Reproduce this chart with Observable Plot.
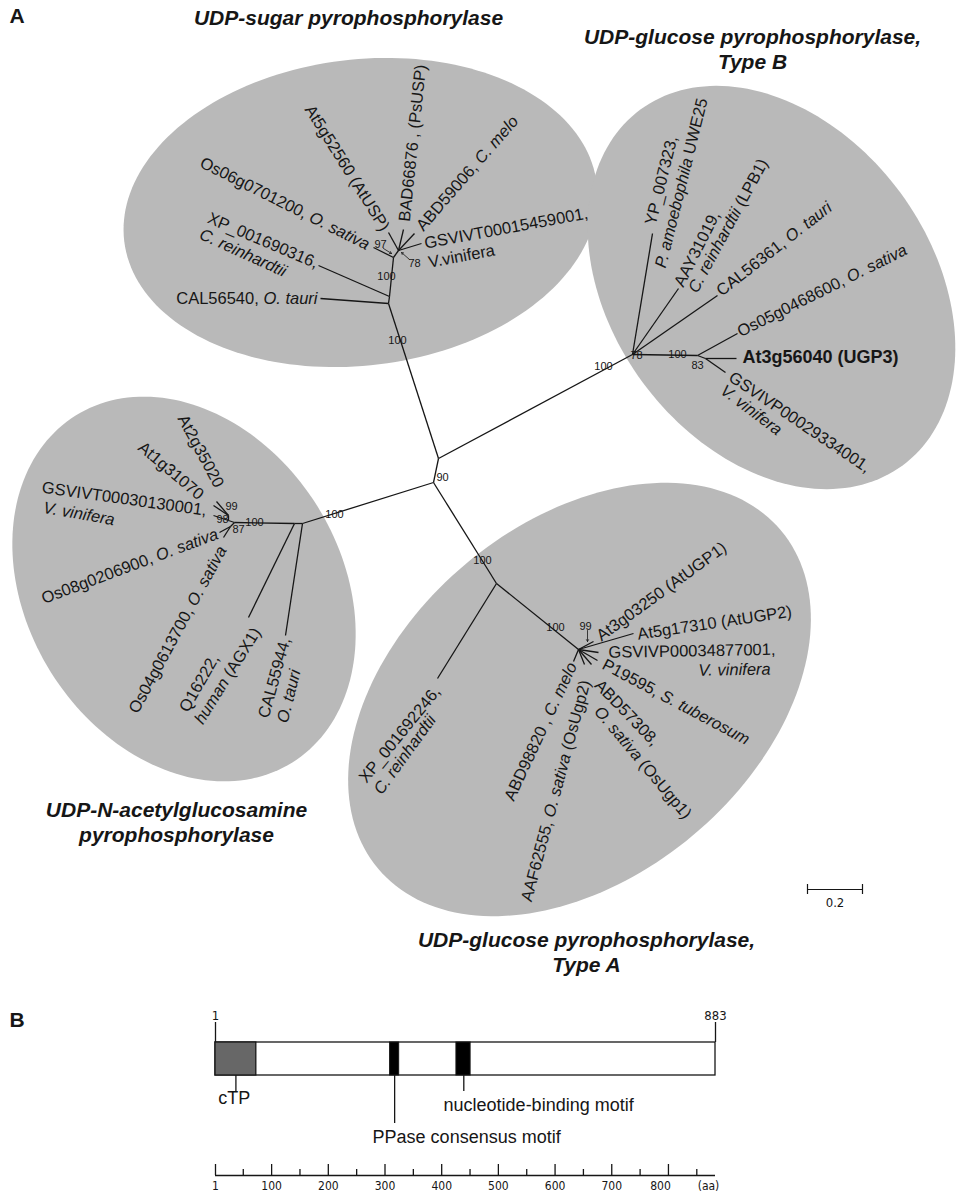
<!DOCTYPE html>
<html><head><meta charset="utf-8">
<script src="https://cdn.jsdelivr.net/npm/d3@7"></script>
<script src="https://cdn.jsdelivr.net/npm/@observablehq/plot@0.6"></script>
<style>
html,body{margin:0;padding:0;background:#fff;}
#chart svg{display:block;}
</style></head><body><div id="chart"></div>
<script>
// ================= Panel A: unrooted tree =================
// group titles
const groupTitles = ["UDP-sugar pyrophosphorylase", "UDP-glucose pyrophosphorylase,", "Type B", "UDP-N-acetylglucosamine", "pyrophosphorylase", "UDP-glucose pyrophosphorylase,", "Type A"];
const groupTitleX = [348, 752, 752, 176, 176, 586, 586];
const groupTitleY = [18, 37, 62, 810, 835, 940, 965];

// shaded clade ellipses (centre, semi-axes, tilt in degrees)
const ellipseCX = [360, 771, 183.5, 579];
const ellipseCY = [212, 287, 588.5, 699];
const ellipseA = [238, 221, 204.5, 263];
const ellipseB = [153, 160, 157, 177];
const ellipseTilt = [-7, 53.6, 58, -40];

// internal nodes of the tree (layout coordinates)
const nodeIds =    ["U", "N90", "S1", "S2", "S3", "S4", "B1", "B2", "B3", "L1", "L2", "L3", "L5", "L4", "L6", "A1", "A2"];
const nodeParent = [null, "U", "U", "S1", "S2", "S3", "U", "B1", "B2", "N90", "L1", "L2", "L3", "L5", "L3", "N90", "A1"];
const nodeX = [438, 433, 388, 389, 393, 398, 632, 697, 705, 302, 294, 234, 228, 228, 230, 496, 578];
const nodeY = [458, 482, 303, 296, 257, 250, 354, 355, 358, 523, 523, 522, 520, 515, 526, 583, 649];

// leaves (sequence tips)
const leafIds = ["CAL56540", "XP_001690316", "Os06g0701200", "At5g52560", "BAD66876", "ABD59006", "GSVIVT00015459001",
  "YP_007323", "AAY31019", "CAL56361", "Os05g0468600", "At3g56040", "GSVIVP00029334001",
  "CAL55944", "Q16222", "At2g35020", "At1g31070", "GSVIVT00030130001", "Os08g0206900", "Os04g0613700",
  "XP_001692246", "At3g03250", "At5g17310", "GSVIVP00034877001", "P19595", "ABD57308", "AAF62555", "ABD98820"];
const leafParent = ["S1", "S2", "S3", "S4", "S4", "S4", "S4", "B1", "B1", "B1", "B2", "B3", "B3",
  "L1", "L2", "L4", "L4", "L5", "L6", "L6", "A1", "A2", "A2", "A2", "A2", "A2", "A2", "A2"];
const leafX = [320, 318, 373, 388, 403, 414, 421, 652, 678, 717, 737, 736, 725, 285, 248, 216, 213, 213, 219, 223, 437, 593, 633, 598, 597, 591, 584, 573];
const leafY = [298, 265, 247, 232, 229, 233, 243, 233, 288, 295, 333, 358, 372, 635, 617, 501, 505, 515, 532, 537, 678, 641, 633, 652, 660, 664, 664, 661];

// tip label lines (*...* = italic)
const labelText = [
  "At5g52560 (AtUSP)", "BAD66876 , (PsUSP)", "ABD59006, *C. melo*", "GSVIVT00015459001,", "V.vinifera",
  "Os06g0701200, *O. sativa*", "XP_001690316,", "*C. reinhardtii*", "CAL56540, *O. tauri*",
  "YP_007323,", "*P. amoebophila* UWE25", "AAY31019,", "*C. reinhardtii* (LPB1)", "CAL56361, *O. tauri*",
  "Os05g0468600, *O. sativa*", "GSVIVP00029334001,", "*V. vinifera*",
  "At2g35020", "At1g31070", "GSVIVT00030130001,", "*V. vinifera*", "Os08g0206900, *O. sativa*",
  "Os04g0613700, *O. sativa*", "Q16222,", "*human* (AGX1)", "CAL55944,", "*O. tauri*",
  "XP_001692246,", "*C. reinhardtii*", "At3g03250 (AtUGP1)", "At5g17310 (AtUGP2)", "GSVIVP00034877001,",
  "*V. vinifera*", "P19595, *S. tuberosum*", "ABD57308,", "*O. sativa* (OsUgp1)", "ABD98820 , *C. melo*",
  "AAF62555, *O. sativa* (OsUgp2)"];
const labelX = [385, 404, 419, 424, 428, 368, 208, 200, 317, 650, 660, 678, 692, 718, 738, 730, 722,
  219, 201, 206, 43, 217, 222, 183, 198, 263, 282, 362, 377, 598, 637, 608, 698, 603, 597, 597, 572, 585];
const labelY = [229, 221, 228, 243, 262, 245, 217, 233, 298, 224, 267, 285, 291, 292, 332, 375, 388,
  486, 496, 510, 507, 533, 547, 710, 722, 717, 722, 780, 792, 637, 634, 652, 670, 663, 682, 708, 663, 680];
const labelAngle = [58, -84, -49, -10.5, -10.5, 26.6, 23, 24.5, 0, -76, -76, -63, -61.5, -38, -26.5, 34, 37,
  62, 40, 8, 10, -20.5, -61.5, -60, -58, -74.5, -76, -51, -54, -36, -8.5, -1, -1, 28, 46, 50, -65, -75];
const labelAnchor = ["end", "start", "start", "start", "start", "end", "start", "start", "end",
  "start", "start", "start", "start", "start", "start", "start", "start",
  "end", "end", "end", "start", "end", "end", "start", "start", "start", "start",
  "start", "start", "start", "start", "start", "start", "start", "start", "start", "end", "end"];
// highlighted gene
const boldLabel = "At3g56040 (UGP3)";
const boldLabelX = 742, boldLabelY = 357;

// bootstrap values
const bootText = ["100", "100", "97", "78", "100", "78", "100", "83", "100", "100", "99", "98", "87", "90", "100", "100", "99"];
const bootX = [397, 386, 380, 414, 603, 636, 677, 697, 334, 254, 231, 222, 238, 442, 482, 555, 585];
const bootY = [340, 276, 244, 263, 366, 355, 354, 365, 514, 522, 506, 519, 529, 477, 560, 627, 626];
// little pointer arrows from bootstrap values to their nodes
const pointerX1 = [383, 409, 587], pointerY1 = [248, 259, 630];
const pointerX2 = [391, 401, 587], pointerY2 = [253, 252, 641];

// branch-length scale bar
const scaleBarValue = 0.2;
const pxPerUnit = 275;
const scaleBarX = 807, scaleBarY = 889;

// ================= Panel B: UGP3 domain map =================
const proteinLength = 883;
const featureNames = ["cTP", "PPase consensus motif", "nucleotide-binding motif"];
const featureStart = [1, 309, 426];
const featureEnd = [73, 325, 451];
const featurePointer = [37, 317, 439];
const featureLabelX = [34, 444, 571];
const axisMajor = [1, 100, 200, 300, 400, 500, 600, 700, 800];
const axisMinor = [50, 150, 250, 350, 450, 550, 650, 750, 850];

// ---------------------------------------------------------
const FONT = "'Liberation Sans', Arial, Helvetica, sans-serif";
const NARROW = "'Liberation Sans Narrow', 'Arial Narrow', 'DejaVu Sans Condensed', sans-serif";
const INK = "#161616";
const W = 956, HA = 985, HB = 210;

// ellipse outlines
const ellipsePts = [];
ellipseCX.forEach((cx, g) => {
  const phi = ellipseTilt[g] * Math.PI / 180;
  for (let k = 0; k < 180; k++) {
    const t = k / 180 * 2 * Math.PI;
    const u = ellipseA[g] * Math.cos(t), v = ellipseB[g] * Math.sin(t);
    ellipsePts.push({g, x: cx + u * Math.cos(phi) - v * Math.sin(phi), y: ellipseCY[g] + u * Math.sin(phi) + v * Math.cos(phi)});
  }
});

// branches
const pos = new Map();
nodeIds.forEach((id, i) => pos.set(id, [nodeX[i], nodeY[i]]));
const branches = [];
nodeIds.forEach((id, i) => { if (nodeParent[i]) branches.push({p: pos.get(nodeParent[i]), c: [nodeX[i], nodeY[i]]}); });
leafIds.forEach((id, i) => branches.push({p: pos.get(leafParent[i]), c: [leafX[i], leafY[i]]}));

const labels = labelText.map((text, i) => ({text, x: labelX[i], y: labelY[i], rotate: labelAngle[i], anchor: labelAnchor[i]}));
const titles = groupTitles.map((text, i) => ({text, x: groupTitleX[i], y: groupTitleY[i]}));
const boots = bootText.map((text, i) => ({text, x: bootX[i], y: bootY[i]}));
const pointers = pointerX1.map((x1, i) => ({x1, y1: pointerY1[i], x2: pointerX2[i], y2: pointerY2[i]}));

const labelOpts = (anchor) => ({x: "x", y: "y", text: "text", rotate: "rotate", textAnchor: anchor, fontSize: 16.5, fill: INK});

const plotA = Plot.plot({
  width: W, height: HA, margin: 0,
  x: {domain: [0, W], range: [0, W], axis: null},
  y: {domain: [0, HA], range: [0, HA], axis: null},
  style: {background: "#fff", fontFamily: FONT, color: INK},
  marks: [
    Plot.line(ellipsePts, {x: "x", y: "y", z: "g", fill: "#b9b9b9", stroke: "none", curve: "linear-closed"}),
    Plot.text(["A"], {frameAnchor: "top-left", dx: 9, dy: 8, text: d => d, fontSize: 21, fontWeight: "bold", fill: INK}),
    Plot.text(titles, {x: "x", y: "y", text: "text", fontSize: 21, fontWeight: "bold", fontStyle: "italic", fill: INK}),
    Plot.link(branches, {x1: d => d.p[0], y1: d => d.p[1], x2: d => d.c[0], y2: d => d.c[1], stroke: INK, strokeWidth: 1.3}),
    Plot.arrow(pointers, {x1: "x1", y1: "y1", x2: "x2", y2: "y2", stroke: INK, strokeWidth: 0.8, headLength: 4}),
    Plot.text(boots, {x: "x", y: "y", text: "text", fontSize: 11, fill: INK}),
    Plot.text(labels.filter(d => d.anchor === "start"), labelOpts("start")),
    Plot.text(labels.filter(d => d.anchor === "end"), labelOpts("end")),
    Plot.text([boldLabel], {x: boldLabelX, y: boldLabelY, text: d => d, textAnchor: "start", fontSize: 18, fontWeight: "bold", fill: INK}),
    Plot.ruleY([scaleBarY], {x1: scaleBarX, x2: scaleBarX + scaleBarValue * pxPerUnit, stroke: INK, strokeWidth: 1.2}),
    Plot.ruleX([scaleBarX, scaleBarX + scaleBarValue * pxPerUnit], {y1: scaleBarY - 5, y2: scaleBarY + 5, stroke: INK, strokeWidth: 1.2}),
    Plot.text([String(scaleBarValue)], {x: scaleBarX + scaleBarValue * pxPerUnit / 2, y: scaleBarY + 13, text: d => d, fontSize: 13, fontFamily: NARROW, fill: INK})
  ]
});

// italic segments
function applyItalics(svg) {
  svg.querySelectorAll("text").forEach(t => {
    const s = t.textContent;
    if (!s.includes("*")) return;
    const parts = s.split("*");
    while (t.firstChild) t.removeChild(t.firstChild);
    parts.forEach((p, i) => {
      if (!p) return;
      const ts = document.createElementNS("http://www.w3.org/2000/svg", "tspan");
      if (i % 2 === 1) ts.setAttribute("font-style", "italic");
      ts.textContent = p;
      t.appendChild(ts);
    });
  });
}
applyItalics(plotA);

// ---------------- Panel B ----------------
const features = featureNames.map((name, i) => ({name, start: featureStart[i], end: featureEnd[i], pointer: featurePointer[i], lx: featureLabelX[i]}));
const pointerDepth = [107, 138, 106];
const featureLabelRow = [113, 152, 120];
features.forEach((f, i) => { f.py = pointerDepth[i]; f.ly = featureLabelRow[i]; });
const barTop = 57, barBottom = 90, axisY = 190;

const plotB = Plot.plot({
  width: W, height: HB, margin: 0,
  x: {domain: [1, proteinLength], range: [215, 715], axis: null},
  y: {domain: [0, HB], range: [0, HB], axis: null},
  style: {background: "#fff", fontFamily: FONT, color: INK},
  marks: [
    Plot.text(["B"], {frameAnchor: "top-left", dx: 9, dy: 27, text: d => d, fontSize: 21, fontWeight: "bold", fill: INK}),
    Plot.ruleX([1, proteinLength], {y1: barTop - 20, y2: barTop, stroke: INK, strokeWidth: 1.3}),
    Plot.text([1, proteinLength], {x: d => d, y: barTop - 27, text: d => String(d), fontSize: 13, fontFamily: NARROW, fill: INK}),
    Plot.rect([proteinLength], {x1: 1, x2: d => d, y1: barTop, y2: barBottom, fill: "#fff", stroke: INK, strokeWidth: 1.3}),
    Plot.rect(features.slice(0, 1), {x1: "start", x2: "end", y1: barTop, y2: barBottom, fill: "#676767", stroke: INK, strokeWidth: 1.3}),
    Plot.rect(features.slice(1), {x1: "start", x2: "end", y1: barTop, y2: barBottom, fill: "#000", stroke: INK, strokeWidth: 1}),
    Plot.ruleX(features, {x: "pointer", y1: barBottom, y2: "py", stroke: INK, strokeWidth: 1.3}),
    Plot.text(features, {x: "lx", y: "ly", text: "name", fontSize: 18, fill: INK}),
    Plot.ruleY([axisY], {x1: 1, x2: proteinLength, stroke: INK, strokeWidth: 1.3}),
    Plot.ruleX(axisMajor, {y1: axisY - 11, y2: axisY, stroke: INK, strokeWidth: 1.3}),
    Plot.ruleX(axisMinor, {y1: axisY - 6, y2: axisY, stroke: INK, strokeWidth: 1.3}),
    Plot.text(axisMajor.slice(0, -1), {x: d => d, y: axisY + 11, text: d => String(d), fontSize: 12, fontFamily: NARROW, fill: INK}),
    Plot.text(axisMajor.slice(-1), {x: d => d, y: axisY + 11, dx: -8, text: d => String(d), fontSize: 12, fontFamily: NARROW, fill: INK}),
    Plot.text(["(aa)"], {x: proteinLength, y: axisY + 11, dx: -7, text: d => d, fontSize: 12, fontFamily: NARROW, fill: INK})
  ]
});

const host = document.getElementById("chart");
host.appendChild(plotA);
host.appendChild(plotB);
</script></body></html>
